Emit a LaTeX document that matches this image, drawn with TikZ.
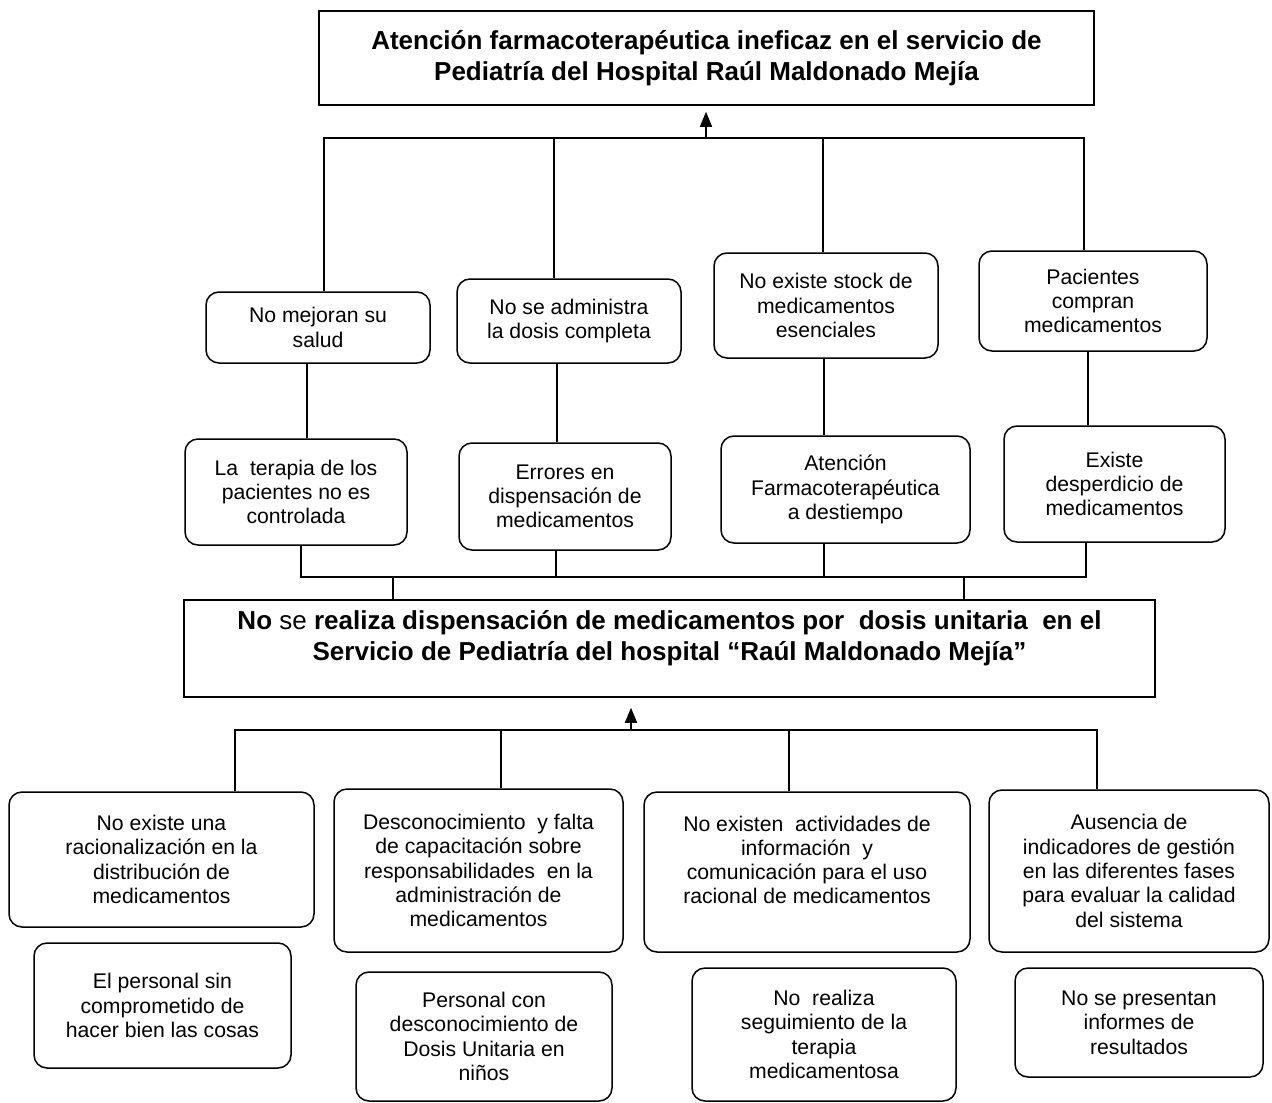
\documentclass[tikz,border=0pt]{standalone}
\usepackage{fontspec}
\setmainfont{Liberation Sans}
\usetikzlibrary{arrows.meta}
\begin{document}
\begin{tikzpicture}[x=1pt,y=-1pt,
  rbox/.style={draw, line width=1.5pt, rounded corners=13pt, align=center,
    font=\fontsize{21.2}{24.3}\selectfont, inner sep=0pt},
  sqbox/.style={draw, line width=1.5pt, align=center,
    font=\fontsize{26}{31}\selectfont\bfseries, inner sep=0pt},
  conn/.style={line width=1.5pt},
  arr/.style={line width=1.5pt, -{Triangle[width=12pt,length=15pt]}}]
\fill[white] (0,0) rectangle (1272,1103);
\useasboundingbox (0,0) rectangle (1272,1103);

% main boxes
\node[sqbox, minimum width=775pt, minimum height=94pt] (T) at (706.5,58)
  {Atención farmacoterapéutica ineficaz en el servicio de\\Pediatría del Hospital Raúl Maldonado Mejía};
\node[sqbox, minimum width=971pt, minimum height=97pt] (M) at (669.5,648.5)
  {No {\mdseries se} realiza dispensación de medicamentos por~ dosis unitaria~ en el\\Servicio de Pediatría del hospital “Raúl Maldonado Mejía”\\[-4pt]\mbox{}};

% effects
\node[rbox, minimum width=224pt, minimum height=71pt] (e1) at (318,327.5) {No mejoran su\\salud};
\node[rbox, minimum width=224pt, minimum height=84pt] (e2) at (569,321) {No se administra\\la dosis completa};
\node[rbox, minimum width=224pt, minimum height=105pt] (e3) at (826,305.5) {No existe stock de\\medicamentos\\esenciales};
\node[rbox, minimum width=228pt, minimum height=100pt] (e4) at (1093,301) {Pacientes\\compran\\medicamentos};
\node[rbox, minimum width=222pt, minimum height=106pt] (e5) at (296,492) {La~ terapia de los\\pacientes no es\\controlada};
\node[rbox, minimum width=212pt, minimum height=107pt] (e6) at (565,496.5) {Errores en\\dispensación de\\medicamentos};
\node[rbox, minimum width=249pt, minimum height=107pt] (e7) at (845.5,489.5) {Atención\\Farmacoterapéutica\\a destiempo};
\node[rbox, minimum width=221pt, minimum height=116pt] (e8) at (1114.5,484) {Existe\\desperdicio de\\medicamentos};

% causes
\node[rbox, minimum width=305pt, minimum height=135pt] (cA) at (161.5,859.5) {No existe una\\racionalización en la\\distribución de\\medicamentos};
\node[rbox, minimum width=289pt, minimum height=163pt] (cB) at (478.5,870.5) {Desconocimiento~ y falta\\de capacitación sobre\\responsabilidades~ en la\\administración de\\medicamentos};
\node[rbox, minimum width=326pt, minimum height=160pt] (cC) at (807,872) {No existen~ actividades de\\información~ y\\comunicación para el uso\\racional de medicamentos\\\mbox{}};
\node[rbox, minimum width=280pt, minimum height=162pt] (cD) at (1129,871) {Ausencia de\\indicadores de gestión\\en las diferentes fases\\para evaluar la calidad\\del sistema};
\node[rbox, minimum width=257pt, minimum height=125pt] (cE) at (162.5,1005.5) {El personal sin\\comprometido de\\hacer bien las cosas};
\node[rbox, minimum width=256pt, minimum height=129pt] (cF) at (484,1036.5) {Personal con\\desconocimiento de\\Dosis Unitaria en\\niños};
\node[rbox, minimum width=264pt, minimum height=133pt] (cG) at (824,1034.5) {No~ realiza\\seguimiento de la\\terapia\\medicamentosa};
\node[rbox, minimum width=248pt, minimum height=109pt] (cH) at (1139,1022.5) {No se presentan\\informes de\\resultados};

% top connectors
\coordinate (hA) at (324,138);
\coordinate (hB) at (554,138);
\coordinate (hC) at (823,138);
\coordinate (hD) at (1084,138);
\coordinate (ha) at (706,138);
\draw[conn] (hA |- e1.north) -- (hA) -- (hD) -- (hD |- e4.north);
\draw[conn] (hB) -- (hB |- e2.north);
\draw[conn] (hC) -- (hC |- e3.north);
\draw[arr, shorten >=6pt] (ha) -- (ha |- T.south);

% effect to effect
\coordinate (m1) at (307,400);
\coordinate (m2) at (557,400);
\coordinate (m3) at (824,400);
\coordinate (m4) at (1088,400);
\draw[conn] (m1 |- e1.south) -- (m1 |- e5.north);
\draw[conn] (m2 |- e2.south) -- (m2 |- e6.north);
\draw[conn] (m3 |- e3.south) -- (m3 |- e7.north);
\draw[conn] (m4 |- e4.south) -- (m4 |- e8.north);

% lower effect bus
\coordinate (b1) at (301,577);
\coordinate (b2) at (556,577);
\coordinate (b3) at (824,577);
\coordinate (b4) at (1086,577);
\coordinate (j1) at (393,577);
\coordinate (j2) at (964,577);
\draw[conn] (b1 |- e5.south) -- (b1) -- (b4) -- (b4 |- e8.south);
\draw[conn] (b2 |- e6.south) -- (b2);
\draw[conn] (b3 |- e7.south) -- (b3);
\draw[conn] (j1) -- (j1 |- M.north);
\draw[conn] (j2) -- (j2 |- M.north);

% cause bus
\coordinate (l0) at (631,730);
\coordinate (l1) at (235,730);
\coordinate (l2) at (501,730);
\coordinate (l3) at (789,730);
\coordinate (l4) at (1097,730);
\draw[arr, shorten >=10pt] (l0) -- (l0 |- M.south);
\draw[conn] (l1 |- cA.north) -- (l1) -- (l4) -- (l4 |- cD.north);
\draw[conn] (l2) -- (l2 |- cB.north);
\draw[conn] (l3) -- (l3 |- cC.north);
\end{tikzpicture}
\end{document}
